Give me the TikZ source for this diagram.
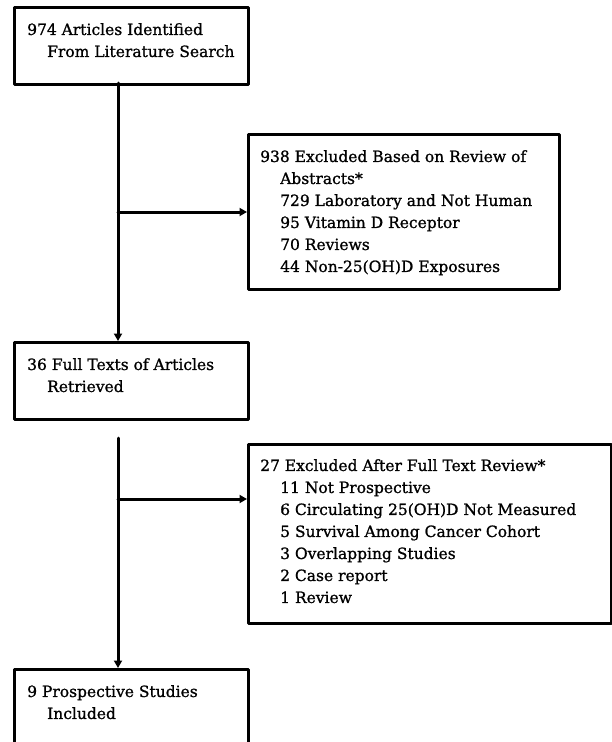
\documentclass[tikz,border=0pt]{standalone}
\usepackage{fontspec}
\setmainfont{DejaVu Serif}[FakeBold=1]
\usetikzlibrary{arrows.meta}

\begin{document}
\begin{tikzpicture}[line cap=round,line join=round,>={Triangle[length=7.5pt,width=8pt]},x=1pt,y=-1pt,
  box/.style={draw=black,line width=3pt,fill=white,anchor=north west,inner sep=0pt},
  txt/.style={anchor=north west,align=left,inner sep=0pt,font=\fontsize{15.5}{22}\selectfont},
  link/.style={->,line width=3pt}]
\useasboundingbox (0,0) rectangle (612,742);
\clip (0,0) rectangle (612,742);
% boxes
\node[box,minimum width=234pt,minimum height=77pt] (b1) at (13,6) {};
\node[box,minimum width=311pt,minimum height=155pt] (e1) at (247,133) {};
\node[box,minimum width=234pt,minimum height=77pt] (b2) at (13,341) {};
\node[box,minimum width=363pt,minimum height=179pt] (e2) at (247,443) {};
\node[box,minimum width=234pt,minimum height=100pt] (b3) at (13,668) {};
% texts
\node[txt] (b1t) at (27,23) {974 Articles Identified\\\hspace*{20pt}From Literature Search};
\node[txt] (e1t) at (260,150) {938 Excluded Based on Review of\\\hspace*{20pt}Abstracts*\\\hspace*{20pt}729 Laboratory and Not Human\\\hspace*{20pt}95 Vitamin D Receptor\\\hspace*{20pt}70 Reviews\\\hspace*{20pt}44 Non-25(OH)D Exposures};
\node[txt] (b2t) at (27,358) {36 Full Texts of Articles\\\hspace*{20pt}Retrieved};
\node[txt] (e2t) at (260,459) {27 Excluded After Full Text Review*\\\hspace*{20pt}11 Not Prospective\\\hspace*{20pt}6 Circulating 25(OH)D Not Measured\\\hspace*{20pt}5 Survival Among Cancer Cohort\\\hspace*{20pt}3 Overlapping Studies\\\hspace*{20pt}2 Case report\\\hspace*{20pt}1 Review};
\node[txt] (b3t) at (27,685) {9 Prospective Studies\\\hspace*{20pt}Included};
% connectors
\coordinate (s1) at (118,83);
\coordinate (s2) at (118,438);
\coordinate (j2) at (118,499);
\draw[link] (s1) -- (s1 |- b2.north);
\draw[link] (s1 |- e1.west) -- (e1.west);
\draw[link] (s2) -- (s2 |- b3.north);
\draw[link] (j2) -- (j2 -| e2.west);
\end{tikzpicture}
\end{document}
